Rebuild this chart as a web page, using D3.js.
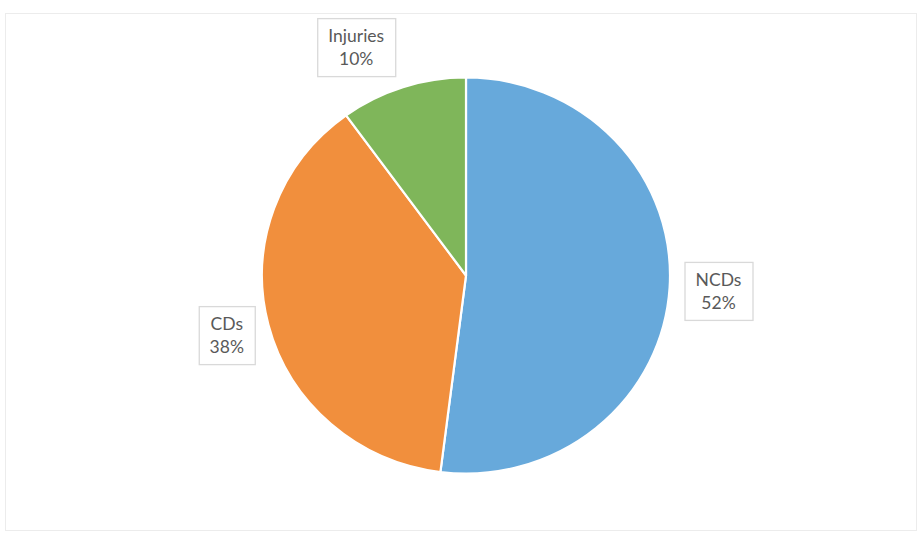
<!DOCTYPE html>
<html>
<head>
<meta charset="utf-8">
<script src="https://cdn.jsdelivr.net/npm/d3@7"></script>
<style>
  html, body { margin: 0; padding: 0; background: #ffffff; }
  svg { display: block; }
  .lbl text { font-family: Lato, "Open Sans", sans-serif; font-size: 17.5px; fill: #595959; }
</style>
</head>
<body>
<svg id="chart" width="918" height="537"></svg>
<script>
// Share of burden by cause group
const categories = ["NCDs", "CDs", "Injuries"];
const shares = [52, 38, 10];
const colors = ["#67a9db", "#f18f3d", "#7fb65a"];

const svg = d3.select("#chart");

// chart area frame
svg.append("rect")
  .attr("x", 5.5).attr("y", 13.5)
  .attr("width", 911).attr("height", 517)
  .attr("fill", "#ffffff")
  .attr("stroke", "#ececec").attr("stroke-width", 1);

const cx = 466, cy = 275.5, rx = 204, ry = 198;

const data = categories.map((c, i) => ({ name: c, value: shares[i], color: colors[i] }));
const pie = d3.pie().value(d => d.value).sort(null);
const arcs = pie(data);
const arc = d3.arc().innerRadius(0).outerRadius(rx);

const g = svg.append("g")
  .attr("transform", `translate(${cx},${cy}) scale(1,${ry / rx})`);

g.selectAll("path")
  .data(arcs)
  .join("path")
  .attr("d", arc)
  .attr("fill", d => d.data.color)
  .attr("stroke", "#ffffff")
  .attr("stroke-width", 2.2)
  .attr("stroke-linejoin", "round");

// outside-end data labels in bordered boxes
const labelR = { NCDs: 253, CDs: 247, Injuries: 242 };
const nudge = { NCDs: [0, 0], CDs: [0, 0], Injuries: [-35, -5] };

const labels = svg.selectAll("g.lbl")
  .data(arcs)
  .join("g")
  .attr("class", "lbl")
  .attr("transform", d => {
    const a = (d.startAngle + d.endAngle) / 2;
    const r = labelR[d.data.name];
    const x = cx + r * Math.sin(a) + nudge[d.data.name][0];
    const y = cy - r * Math.cos(a) * (ry / rx) + nudge[d.data.name][1];
    return `translate(${x},${y})`;
  });

labels.each(function(d) {
  const sel = d3.select(this);
  const t = sel.append("text").attr("text-anchor", "middle");
  t.append("tspan").attr("x", 0).attr("y", -5).text(d.data.name);
  t.append("tspan").attr("x", 0).attr("y", 18).text(d.data.value + "%");
  const bb = t.node().getBBox();
  const padX = 11, padY = 7;
  sel.insert("rect", "text")
    .attr("x", Math.round(bb.x - padX) + 0.5)
    .attr("y", Math.round(bb.y - padY) + 0.5)
    .attr("width", Math.round(bb.width + 2 * padX))
    .attr("height", Math.round(bb.height + 2 * padY))
    .attr("fill", "#ffffff")
    .attr("stroke", "#d9d9d9")
    .attr("stroke-width", 1.3);
});
</script>
</body>
</html>
